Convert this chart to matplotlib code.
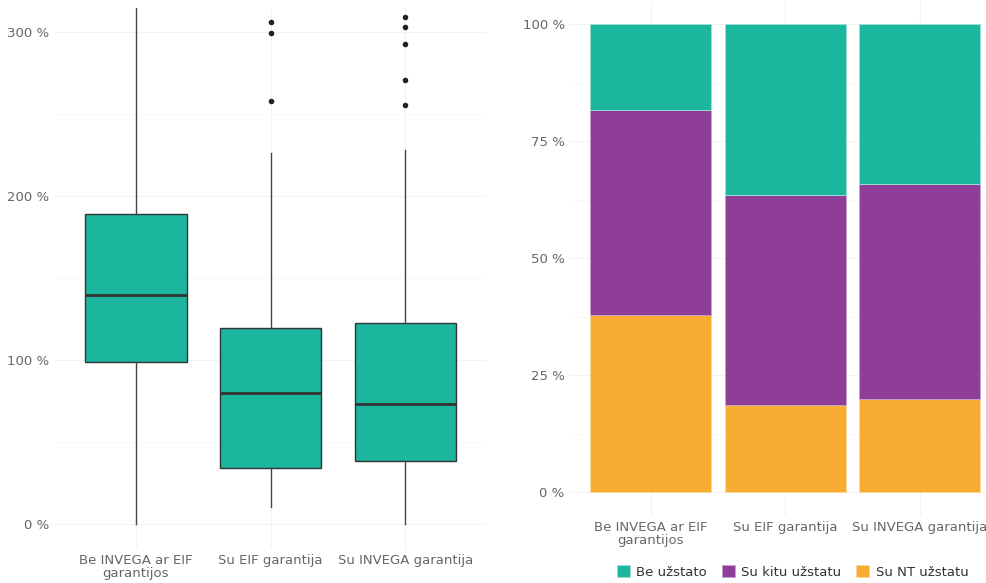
import matplotlib
matplotlib.use("Agg")
import matplotlib.pyplot as plt
import numpy as np

# categories
cats = ["Be INVEGA ar EIF\ngarantijos", "Su EIF garantija", "Su INVEGA garantija"]

# box plot stats (percent)
q1 = [98.6, 34.0, 38.4]
med = [139.6, 79.9, 73.0]
q3 = [189.0, 119.3, 122.4]
whislo = [0.0, 10.6, 0.0]
whishi = [330.0, 226.6, 228.0]
fliers = [[], [306.3, 299.2, 257.9], [309.1, 303.0, 292.5, 271.0, 255.7]]

# stacked shares (percent)
series = ["Be užstato", "Su kitu užstatu", "Su NT užstatu"]
su_nt = [37.9, 18.7, 20.0]
su_kitu = [43.7, 44.8, 45.8]
be_uzst = [18.4, 36.5, 34.2]

teal = "#1cb59e"
purple = "#8e3e96"
orange = "#f8ac31"
grid_c = "#f2f2f2"
tick_c = "#666666"

fig = plt.figure(figsize=(9.87, 5.83), dpi=100)

# ---- left: box plot
ax1 = fig.add_axes([0.0559, 0.059, 0.4367, 0.928])
stats = []
for i in range(3):
    stats.append(dict(q1=q1[i], med=med[i], q3=q3[i], whislo=whislo[i],
                      whishi=whishi[i], fliers=fliers[i]))
ax1.bxp(stats, positions=[1, 2, 3], widths=0.75, patch_artist=True,
        showcaps=False,
        boxprops=dict(facecolor=teal, edgecolor="#333333", linewidth=1),
        medianprops=dict(color="#333333", linewidth=2),
        whiskerprops=dict(color="#444444", linewidth=1),
        flierprops=dict(marker="o", markersize=3, markerfacecolor="#222222",
                        markeredgecolor="#222222"))
ax1.set_xlim(0.4, 3.6)
ax1.set_ylim(-15, 315)
ax1.set_yticks([0, 100, 200, 300])
ax1.set_yticklabels(["0 %", "100 %", "200 %", "300 %"])
ax1.set_yticks([50, 150, 250], minor=True)

# ---- right: stacked bars
ax2 = fig.add_axes([0.5777, 0.1154, 0.4223, 0.8835])
x = np.arange(1, 4)
ax2.bar(x, su_nt, width=0.9, color=orange, edgecolor="#fbd9a0", linewidth=0.6, label=series[2])
ax2.bar(x, su_kitu, width=0.9, bottom=su_nt, color=purple, edgecolor="#c9a3cd", linewidth=0.6, label=series[1])
ax2.bar(x, be_uzst, width=0.9, bottom=np.array(su_nt) + np.array(su_kitu),
        color=teal, edgecolor="#9fe0d4", linewidth=0.6, label=series[0])
ax2.set_xlim(0.4, 3.5)
ax2.set_ylim(-5, 105)
ax2.set_yticks([0, 25, 50, 75, 100])
ax2.set_yticklabels(["0 %", "25 %", "50 %", "75 %", "100 %"])
ax2.set_yticks([12.5, 37.5, 62.5, 87.5], minor=True)

for ax in (ax1, ax2):
    ax.set_xticks([1, 2, 3])
    ax.set_xticklabels(cats, linespacing=0.95)
    for s in ax.spines.values():
        s.set_visible(False)
    ax.tick_params(axis="both", which="both", length=0, labelsize=9.5,
                   labelcolor=tick_c, pad=4)
    ax.grid(True, which="major", color=grid_c, linewidth=0.8)
    ax.grid(True, which="minor", axis="y", color="#f7f7f7", linewidth=0.6)
    ax.set_axisbelow(True)

handles, labels = ax2.get_legend_handles_labels()
order = [2, 1, 0]
fig.legend([handles[i] for i in order], [labels[i] for i in order],
           loc="center", bbox_to_anchor=(0.803, 0.019), ncol=3, frameon=False,
           handlelength=1.0, handleheight=1.0, handletextpad=0.5,
           columnspacing=1.1, fontsize=9.5, labelcolor="#333333")

fig.savefig("out.png", dpi=100)
